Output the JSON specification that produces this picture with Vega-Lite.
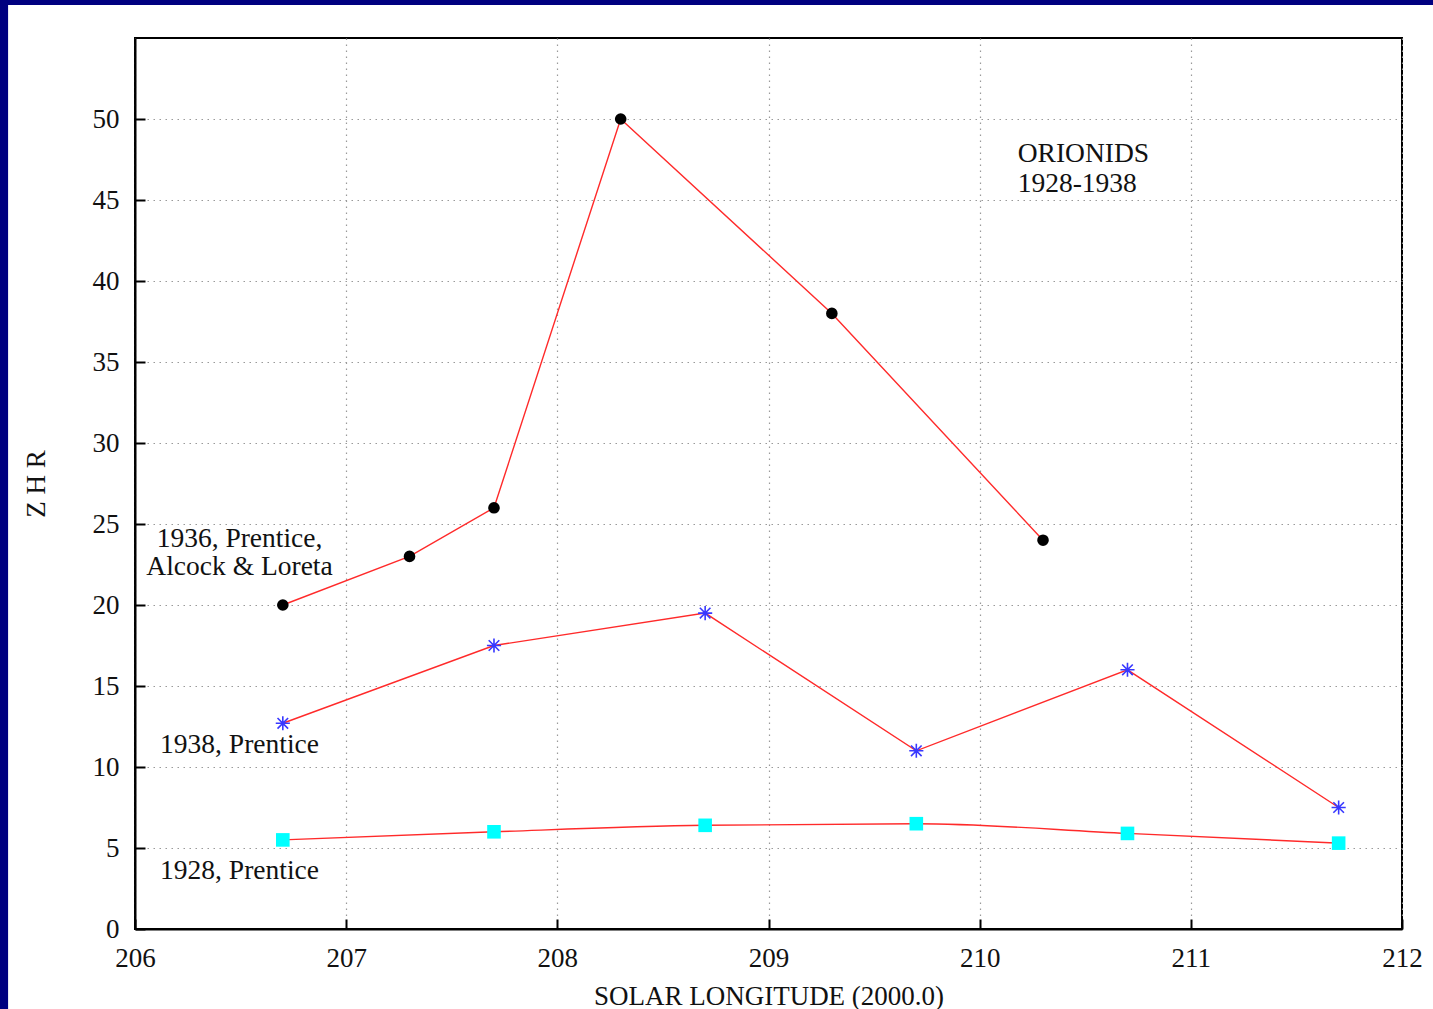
{
  "$schema": "https://vega.github.io/schema/vega-lite/v6.json",
  "autosize": {"type": "none"},
  "width": 1267,
  "height": 891,
  "padding": {"left": 135, "top": 38, "right": 31, "bottom": 80},
  "background": "white",
  "config": {
    "view": {"stroke": "black", "strokeWidth": 2},
    "axis": {
      "labelFont": "Liberation Serif",
      "titleFont": "Liberation Serif",
      "labelFontSize": 27,
      "titleFontSize": 27,
      "titleFontWeight": "normal",
      "labelColor": "#111",
      "titleColor": "#111",
      "domainColor": "black",
      "domainWidth": 2,
      "tickColor": "black",
      "tickWidth": 2,
      "tickSize": -10,
      "gridColor": "#9a9a9a",
      "gridDash": [1.5, 4.5],
      "gridWidth": 1.2
    }
  },
  "datasets": {
    "pts": [
      {"series": "1936", "lon": 206.7, "zhr": 20},
      {"series": "1936", "lon": 207.3, "zhr": 23},
      {"series": "1936", "lon": 207.7, "zhr": 26},
      {"series": "1936", "lon": 208.3, "zhr": 50},
      {"series": "1936", "lon": 209.3, "zhr": 38},
      {"series": "1936", "lon": 210.3, "zhr": 24},
      {"series": "1938", "lon": 206.7, "zhr": 12.7},
      {"series": "1938", "lon": 207.7, "zhr": 17.5},
      {"series": "1938", "lon": 208.7, "zhr": 19.5},
      {"series": "1938", "lon": 209.7, "zhr": 11.0},
      {"series": "1938", "lon": 210.7, "zhr": 16.0},
      {"series": "1938", "lon": 211.7, "zhr": 7.5},
      {"series": "1928", "lon": 206.7, "zhr": 5.5},
      {"series": "1928", "lon": 207.7, "zhr": 6.0},
      {"series": "1928", "lon": 208.7, "zhr": 6.4},
      {"series": "1928", "lon": 209.7, "zhr": 6.5},
      {"series": "1928", "lon": 210.7, "zhr": 5.9},
      {"series": "1928", "lon": 211.7, "zhr": 5.3}
    ],
    "labels": [
      {"lon": 206.495, "zhr": 24.07, "text": "1936, Prentice,"},
      {"lon": 206.495, "zhr": 22.35, "text": "Alcock & Loreta"},
      {"lon": 206.495, "zhr": 11.36, "text": "1938, Prentice"},
      {"lon": 206.495, "zhr": 3.58, "text": "1928, Prentice"}
    ],
    "title": [
      {"lon": 210.18, "zhr": 47.84, "text": "ORIONIDS"},
      {"lon": 210.18, "zhr": 45.99, "text": "1928-1938"}
    ]
  },
  "layer": [
    {
      "data": {"name": "pts"},
      "transform": [{"filter": "datum.series !== '1928'"}],
      "mark": {"type": "line", "color": "#ff2a2a", "strokeWidth": 1.4},
      "encoding": {
        "x": {"field": "lon", "type": "quantitative",
              "scale": {"domain": [206, 212], "nice": false, "zero": false},
              "axis": {"values": [206, 207, 208, 209, 210, 211, 212], "format": "d",
                       "title": "SOLAR LONGITUDE (2000.0)", "labelPadding": 26, "titlePadding": 12,
                       "labelFlush": false}},
        "y": {"field": "zhr", "type": "quantitative",
              "scale": {"domain": [0, 55], "nice": false, "zero": false},
              "axis": {"values": [0, 5, 10, 15, 20, 25, 30, 35, 40, 45, 50], "format": "d",
                       "title": "Z H R", "labelPadding": 26, "titlePadding": 42}},
        "detail": {"field": "series"}
      }
    },
    {
      "data": {"values": [{}]},
      "mark": {"type": "rect", "color": "#000080", "clip": false},
      "encoding": {
        "x": {"datum": 205.0, "type": "quantitative"},
        "x2": {"datum": 205.399},
        "y": {"datum": -6, "type": "quantitative"},
        "y2": {"datum": 60}
      }
    },
    {
      "data": {"values": [{}]},
      "mark": {"type": "rect", "color": "#000080", "clip": false},
      "encoding": {
        "x": {"datum": 205.0, "type": "quantitative"},
        "x2": {"datum": 213.0},
        "y": {"datum": 57.04, "type": "quantitative"},
        "y2": {"datum": 60}
      }
    },
    {
      "data": {"name": "pts"},
      "transform": [{"filter": "datum.series === '1928'"}],
      "mark": {"type": "line", "color": "#ff2a2a", "strokeWidth": 1.4, "interpolate": "monotone"},
      "encoding": {
        "x": {"field": "lon", "type": "quantitative"},
        "y": {"field": "zhr", "type": "quantitative"}
      }
    },
    {
      "data": {"name": "pts"},
      "transform": [{"filter": "datum.series === '1936'"}],
      "mark": {"type": "point", "shape": "circle", "filled": true, "color": "black", "size": 135, "opacity": 1},
      "encoding": {
        "x": {"field": "lon", "type": "quantitative"},
        "y": {"field": "zhr", "type": "quantitative"}
      }
    },
    {
      "data": {"name": "pts"},
      "transform": [{"filter": "datum.series === '1938'"}],
      "mark": {"type": "point", "shape": "M-1,0L1,0M0,-1L0,1M-0.75,-0.75L0.75,0.75M-0.75,0.75L0.75,-0.75",
               "filled": false, "color": "#3838ff", "strokeWidth": 1.6, "size": 200, "opacity": 1},
      "encoding": {
        "x": {"field": "lon", "type": "quantitative"},
        "y": {"field": "zhr", "type": "quantitative"}
      }
    },
    {
      "data": {"name": "pts"},
      "transform": [{"filter": "datum.series === '1928'"}],
      "mark": {"type": "point", "shape": "square", "filled": true, "color": "#00ffff", "size": 185, "opacity": 1},
      "encoding": {
        "x": {"field": "lon", "type": "quantitative"},
        "y": {"field": "zhr", "type": "quantitative"}
      }
    },
    {
      "data": {"name": "labels"},
      "mark": {"type": "text", "align": "center", "baseline": "middle", "font": "Liberation Serif", "fontSize": 27.5, "color": "#111"},
      "encoding": {
        "x": {"field": "lon", "type": "quantitative"},
        "y": {"field": "zhr", "type": "quantitative"},
        "text": {"field": "text"}
      }
    },
    {
      "data": {"name": "title"},
      "mark": {"type": "text", "align": "left", "baseline": "middle", "font": "Liberation Serif", "fontSize": 27.5, "color": "#111"},
      "encoding": {
        "x": {"field": "lon", "type": "quantitative"},
        "y": {"field": "zhr", "type": "quantitative"},
        "text": {"field": "text"}
      }
    }
  ]
}
